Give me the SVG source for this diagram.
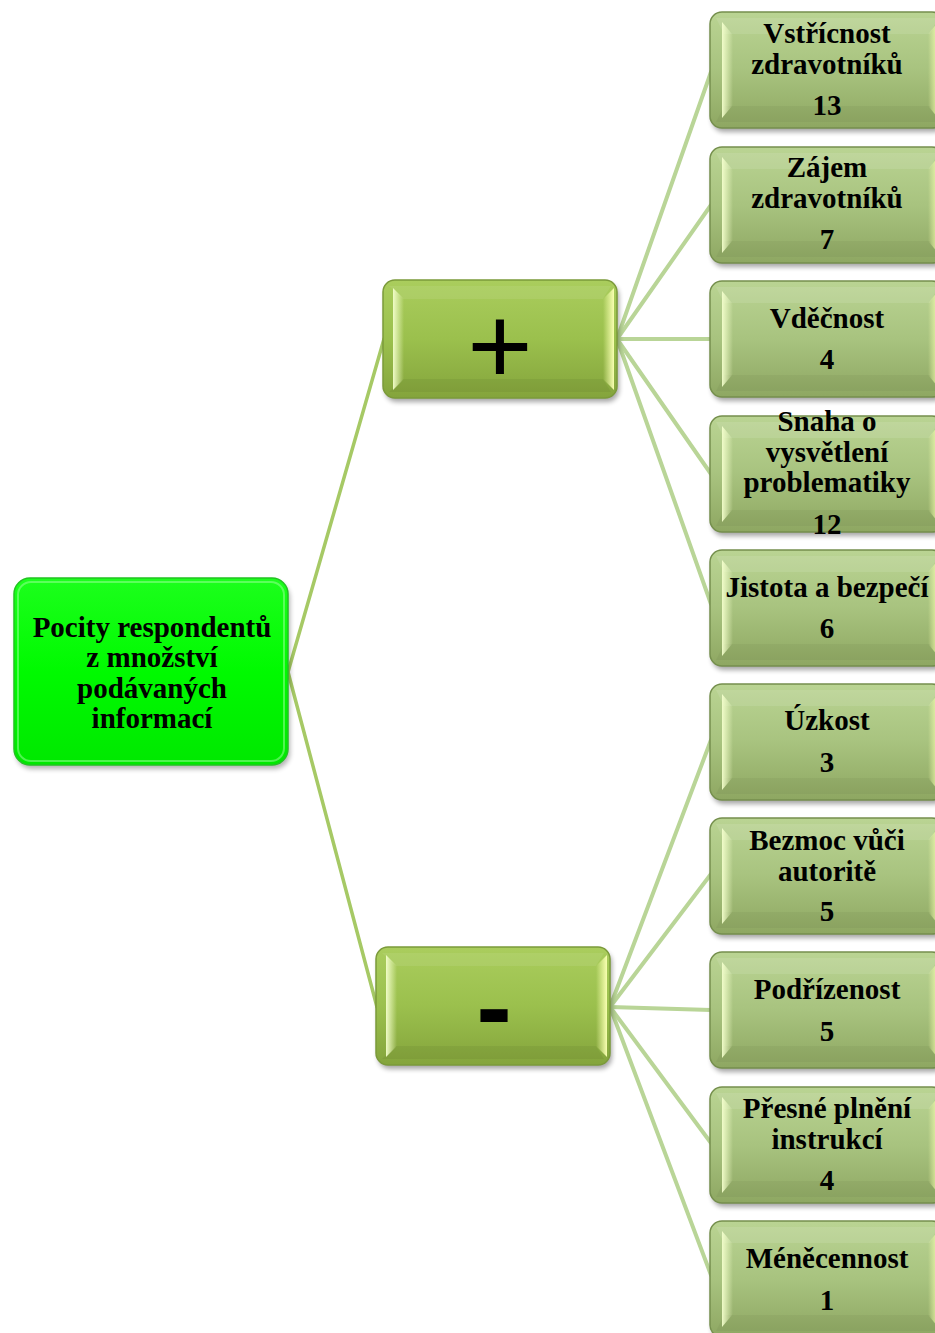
<svg xmlns="http://www.w3.org/2000/svg" xmlns:xlink="http://www.w3.org/1999/xlink" width="935" height="1333" viewBox="0 0 935 1333">
<style>
.t{font-family:"Liberation Serif","Times New Roman",serif;font-weight:bold;font-size:29px;fill:#000;text-anchor:middle}
.con{stroke:#b9d597;stroke-width:4;fill:none;stroke-linecap:round}
.con1{stroke:#a6c965;stroke-width:3.5;fill:none;stroke-linecap:round}
</style>
<defs>
<linearGradient id="gLeaf" x1="0" y1="0" x2="0" y2="1">
<stop offset="0" stop-color="#bad493"/><stop offset="0.5" stop-color="#a8c37f"/><stop offset="1" stop-color="#8ea762"/>
</linearGradient>
<linearGradient id="gMid" x1="0" y1="0" x2="0" y2="1">
<stop offset="0" stop-color="#aacd5d"/><stop offset="0.5" stop-color="#9bc04d"/><stop offset="1" stop-color="#84a43c"/>
</linearGradient>
<linearGradient id="gRoot" x1="0" y1="0" x2="0" y2="1">
<stop offset="0" stop-color="#1cff1c"/><stop offset="0.5" stop-color="#00fa00"/><stop offset="1" stop-color="#00e800"/>
</linearGradient>
<linearGradient id="bevL" x1="0" y1="0" x2="1" y2="0">
<stop offset="0" stop-color="#f4ffcc" stop-opacity="0.95"/><stop offset="1" stop-color="#f4ffcc" stop-opacity="0"/>
</linearGradient>
<linearGradient id="bevR" x1="1" y1="0" x2="0" y2="0">
<stop offset="0" stop-color="#f8ffb0" stop-opacity="1"/><stop offset="1" stop-color="#f8ffb0" stop-opacity="0"/>
</linearGradient>
<filter id="sh" x="-10%" y="-10%" width="125%" height="135%">
<feGaussianBlur stdDeviation="2.5"/>
</filter>
<g id="leafShape">
<rect x="2" y="4" width="234" height="116" rx="12" fill="#000" opacity="0.35" filter="url(#sh)"/>
<rect x="0" y="0" width="234" height="116" rx="12" fill="url(#gLeaf)" stroke="#758f4d" stroke-width="1.5"/>
<polygon points="6,6 228,6 220,22 14,22" fill="#fff" opacity="0.1"/>
<polygon points="6,110 228,110 220,94 14,94" fill="#000" opacity="0.04"/>
<polygon points="12,10 23,23 23,93 12,106" fill="url(#bevL)"/>
<polygon points="230,8 218,22 218,94 230,108" fill="url(#bevR)"/>
</g>
<g id="midShape">
<rect x="2" y="4" width="234" height="118" rx="12" fill="#000" opacity="0.35" filter="url(#sh)"/>
<rect x="0" y="0" width="234" height="118" rx="12" fill="url(#gMid)" stroke="#7b9a3a" stroke-width="1.5"/>
<polygon points="6,6 228,6 220,19 20,19" fill="#fff" opacity="0.08"/>
<polygon points="6,112 228,112 220,99 20,99" fill="#000" opacity="0.05"/>
<polygon points="10,8 21,19 21,99 10,110" fill="url(#bevL)"/>
<polygon points="231,8 220,19 220,99 231,110" fill="url(#bevR)"/>
</g>
</defs>
<rect width="935" height="1333" fill="#fff"/>
<g id="connectors">
<line class="con1" x1="288" y1="672" x2="384" y2="339"/>
<line class="con1" x1="288" y1="672" x2="377" y2="1007"/>
<line class="con" x1="617" y1="339" x2="711" y2="72"/>
<line class="con" x1="617" y1="339" x2="711" y2="205"/>
<line class="con" x1="617" y1="339" x2="711" y2="339"/>
<line class="con" x1="617" y1="339" x2="711" y2="474"/>
<line class="con" x1="617" y1="339" x2="711" y2="604"/>
<line class="con" x1="610" y1="1007" x2="711" y2="740"/>
<line class="con" x1="610" y1="1007" x2="711" y2="874"/>
<line class="con" x1="610" y1="1007" x2="711" y2="1010"/>
<line class="con" x1="610" y1="1007" x2="711" y2="1143"/>
<line class="con" x1="610" y1="1007" x2="711" y2="1275"/>
</g>
<g id="root">
<rect x="16" y="582" width="274" height="187" rx="16" fill="#000" opacity="0.3" filter="url(#sh)"/>
<rect x="14" y="578" width="274" height="187" rx="16" fill="url(#gRoot)" stroke="#22c322" stroke-width="1.5"/>
<rect x="18" y="582" width="266" height="179" rx="13" fill="none" stroke="#9dff9d" stroke-width="2" opacity="0.5"/>
<text class="t" x="152" y="637">Pocity respondentů</text>
<text class="t" x="152" y="667">z množství</text>
<text class="t" x="152" y="698">podávaných</text>
<text class="t" x="152" y="728">informací</text>
</g>
<g id="plus">
<use xlink:href="#midShape" x="383" y="280"/>
<text x="500" y="384" font-family="Liberation Sans, Arial, sans-serif" font-size="112" text-anchor="middle" fill="#000">+</text>
</g>
<g id="minus">
<use xlink:href="#midShape" x="376" y="947"/>
<text x="494" y="1044" font-family="Liberation Sans, Arial, sans-serif" font-weight="bold" font-size="107" text-anchor="middle" fill="#000">-</text>
</g>
<g id="leaf1">
<use xlink:href="#leafShape" x="710" y="12"/>
<text class="t" x="827" y="43">Vstřícnost</text>
<text class="t" x="827" y="74">zdravotníků</text>
<text class="t" x="827" y="115">13</text>
</g>
<g id="leaf2">
<use xlink:href="#leafShape" x="710" y="147"/>
<text class="t" x="827" y="177">Zájem</text>
<text class="t" x="827" y="208">zdravotníků</text>
<text class="t" x="827" y="249">7</text>
</g>
<g id="leaf3">
<use xlink:href="#leafShape" x="710" y="281"/>
<text class="t" x="827" y="328">Vděčnost</text>
<text class="t" x="827" y="369">4</text>
</g>
<g id="leaf4">
<use xlink:href="#leafShape" x="710" y="416"/>
<text class="t" x="827" y="431">Snaha o</text>
<text class="t" x="827" y="462">vysvětlení</text>
<text class="t" x="827" y="492">problematiky</text>
<text class="t" x="827" y="534">12</text>
</g>
<g id="leaf5">
<use xlink:href="#leafShape" x="710" y="550"/>
<text class="t" x="827" y="597">Jistota a bezpečí</text>
<text class="t" x="827" y="638">6</text>
</g>
<g id="leaf6">
<use xlink:href="#leafShape" x="710" y="684"/>
<text class="t" x="827" y="730">Úzkost</text>
<text class="t" x="827" y="772">3</text>
</g>
<g id="leaf7">
<use xlink:href="#leafShape" x="710" y="818"/>
<text class="t" x="827" y="850">Bezmoc vůči</text>
<text class="t" x="827" y="881">autoritě</text>
<text class="t" x="827" y="921">5</text>
</g>
<g id="leaf8">
<use xlink:href="#leafShape" x="710" y="952"/>
<text class="t" x="827" y="999">Podřízenost</text>
<text class="t" x="827" y="1041">5</text>
</g>
<g id="leaf9">
<use xlink:href="#leafShape" x="710" y="1087"/>
<text class="t" x="827" y="1118">Přesné plnění</text>
<text class="t" x="827" y="1149">instrukcí</text>
<text class="t" x="827" y="1190">4</text>
</g>
<g id="leaf10">
<use xlink:href="#leafShape" x="710" y="1221"/>
<text class="t" x="827" y="1268">Méněcennost</text>
<text class="t" x="827" y="1310">1</text>
</g>
</svg>
